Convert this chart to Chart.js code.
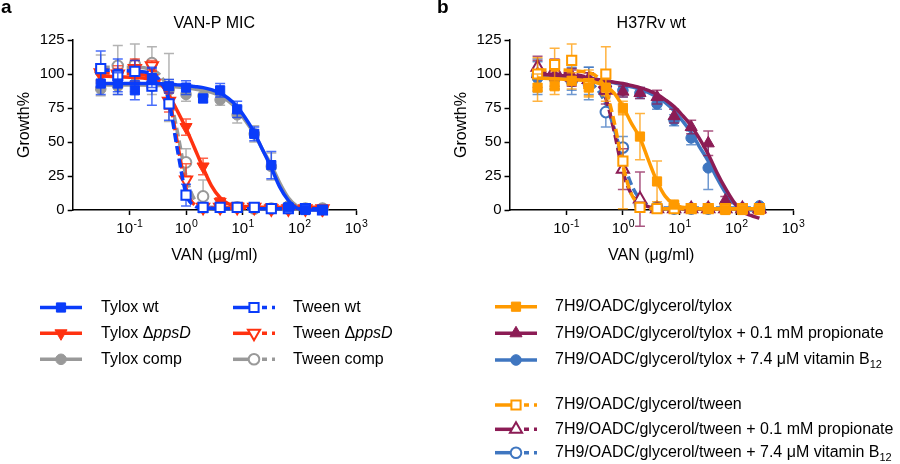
<!DOCTYPE html>
<html>
<head>
<meta charset="utf-8">
<script src="https://cdn.jsdelivr.net/npm/chart.js@4.4.1/dist/chart.umd.min.js"></script>
<style>
  body { margin: 0; background: #fff; width: 900px; height: 464px; position: relative; overflow: hidden;
         font-family: "Liberation Sans", Arial, sans-serif; }
  canvas { position: absolute; top: 0; }
  #ca { left: 0; }
  #cb { left: 450px; }
  .lab { position: absolute; top: -4px; font-size: 19px; font-weight: bold; }
</style>
</head>
<body>
<canvas id="ca" width="450" height="464"></canvas>
<canvas id="cb" width="450" height="464"></canvas>
<div class="lab" style="left:1px">a</div>
<div class="lab" style="left:437px">b</div>
<script>
// VAN concentrations (µg/ml), 2-fold dilutions
const conc = [0.03125, 0.0625, 0.125, 0.25, 0.5, 1, 2, 4, 8, 16, 32, 64, 128, 256];
const fitConc = [0.03125, 0.0625, 0.125, 0.25, 0.35, 0.5, 0.7, 1, 1.4, 2, 2.8, 4, 5.6, 8, 11, 16, 22, 32, 45, 64, 90, 128, 180, 256];
const xTicks = [0.1, 1, 10, 100, 1000];

// panel a - VAN-P MIC
const tyloxWt      = [93, 93, 88, 97, 91, 90, 82, 88, 74, 56, 33, 2, 0, 0];
const tyloxWtErr   = [8, 8, 7, 7, 5, 5, 3, 5, 6, 5, 10, 1, 1, 1];
const tyloxPpsD    = [99, 99, 102, 97, 80, 61, 32, 6, 3, 2, 2, 1, 1, 0];
const tyloxPpsDErr = [6, 5, 8, 6, 6, 6, 6, 3, 1, 1, 1, 1, 1, 1];
const tyloxComp    = [89, 91, 93, 91, 88, 85, 84, 81, 70, 56, 32, 3, 1, 1];
const tyloxCompErr = [5, 6, 6, 6, 8, 5, 4, 4, 6, 6, 10, 1, 1, 1];
const tweenWt      = [104, 99, 102, 91, 78, 11, 2, 2, 2, 2, 1, 1, 1, 0];
const tweenWtErr   = [13, 12, 8, 14, 12, 8, 1, 1, 1, 1, 1, 1, 1, 1];
const tweenPpsD    = [101, 100, 104, 106, 80, 22, 2, 2, 2, 2, 1, 1, 1, 1];
const tweenPpsDErr = [6, 6, 7, 4, 8, 12, 2, 1, 1, 1, 1, 1, 1, 1];
const tweenComp    = [102, 106, 107, 108, 90, 35, 10, 2, 2, 1, 1, 1, 1, 1];
const tweenCompErr = [12, 15, 15, 12, 25, 10, 12, 2, 1, 1, 1, 1, 1, 1];

const tyloxWtFit   = [93, 93, 93, 93, 92.8, 92.5, 92, 91.5, 90.8, 90, 88.5, 86, 82, 76, 68, 57, 45, 31, 17, 7, 1.5, 0, 0, 0];
const tyloxPpsDFit = [98.5, 98, 97.5, 96, 93, 84, 73, 60, 46, 31, 18, 9, 4.5, 3, 2.5, 2, 2, 2, 2, 2, 2, 2, 2, 2];
const tyloxCompFit = [92, 92, 92, 91.8, 91.5, 91, 90.5, 90, 89, 88, 86.5, 84, 80, 74, 66, 56, 45, 33, 20, 9, 3, 0.5, 0, 0];
const tweenWtFit   = [103, 102.5, 102, 100, 95, 80, 45, 12, 3, 1.5, 1.2, 1, 1, 1, 1, 1, 1, 1, 1, 1, 1, 1, 1, 1];
const tweenPpsDFit = [101, 100.5, 100, 98, 95, 82, 50, 16, 4, 2, 1.5, 1.5, 1.5, 1.5, 1.5, 1.5, 1.5, 1.5, 1.5, 1.5, 1.5, 1.5, 1.5, 1.5];
const tweenCompFit = [105, 105, 105, 103, 99, 86, 58, 25, 8, 3, 2, 2, 1.5, 1.5, 1.5, 1.5, 1.5, 1.5, 1.5, 1.5, 1.5, 1.5, 1.5, 1.5];

// panel b - H37Rv wt
const tylox        = [90, 91, 95, 90, 90, 75, 54, 21, 4, 1, 1, 0, 0, 0];
const tyloxErr     = [10, 6, 6, 6, 6, 5, 17, 15, 2, 1, 1, 1, 1, 1];
const tyloxProp    = [100, 99, 97, 96, 93, 87, 86, 83, 69, 61, 49, 7, 1, 0];
const tyloxPropErr = [10, 8, 6, 5, 8, 4, 4, 5, 5, 5, 9, 3, 1, 1];
const tyloxB12     = [97, 97, 96, 95, 91, 88, 86, 78, 66, 53, 31, 4, 1, 3];
const tyloxB12Err  = [12, 8, 8, 10, 5, 5, 4, 4, 4, 5, 16, 2, 1, 1];
const tween        = [100, 107, 110, 93, 100, 36, 2, 1, 1, 1, 1, 1, 1, 1];
const tweenErr     = [12, 12, 12, 10, 20, 35, 3, 1, 1, 1, 1, 1, 1, 1];
const tweenProp    = [105, 103, 98, 96, 88, 30, 8, 1, 1, 1, 1, 1, 1, 1];
const tweenPropErr = [8, 8, 6, 5, 10, 15, 20, 2, 1, 1, 1, 1, 1, 1];
const tweenB12     = [99, 97, 95, 93, 72, 46, 4, 2, 1, 1, 1, 1, 1, 1];
const tweenB12Err  = [12, 8, 10, 12, 11, 8, 2, 1, 1, 1, 1, 1, 1, 1];

const tyloxFit     = [97, 96.5, 96, 95, 93.5, 91, 86, 76, 64, 53, 37, 21, 10, 4, 2, 1.5, 1, 1, 1, 1, 1, 1, 1, 1];
const tyloxPropFit = [100, 99, 98.5, 97, 96, 95, 94, 93, 91.5, 90, 88, 85, 81, 76, 70, 62, 53, 41, 28, 16, 6, -1, -4, -6];
const tyloxB12Fit  = [99, 98.5, 98, 97, 96, 95, 93.5, 92, 90.5, 89, 86.5, 83, 79, 73, 66, 57, 47, 36, 24, 13, 5, 1, 0, 0];
const tweenFit     = [103, 103, 102.5, 101, 98, 88, 65, 33, 12, 4, 1.5, 1, 1, 1, 1, 1, 1, 1, 1, 1, 1, 1, 1, 1];
const tweenPropFit = [101, 100.5, 100, 97, 93, 82, 58, 28, 12, 5, 2.5, 1.5, 1, 1, 1, 1, 1, 1, 1, 1, 1, 1, 1, 1];
const tweenB12Fit  = [99, 98.5, 97, 94, 89, 78, 60, 37, 19, 8, 3.5, 2, 1.5, 1.5, 1.5, 1.5, 1.5, 1.5, 1.5, 1.5, 1.5, 1.5, 1.5, 1.5];

const FONT = '"Liberation Sans", Arial, sans-serif';
Chart.defaults.font.family = FONT;
Chart.defaults.color = '#000';

const BLUE = '#0a3cfa', RED = '#ff3210', GREY = '#999999';
const ORANGE = '#ff9a00', MAROON = '#8c1c55', STEEL = '#3f76c0';

const shapes = {
  square: { pointStyle: 'rect', radius: 6.5, rotation: 0 },
  triDown: { pointStyle: 'triangle', radius: 7, rotation: 180 },
  triUp: { pointStyle: 'triangle', radius: 7, rotation: 0 },
  circle: { pointStyle: 'circle', radius: 5.3, rotation: 0 }
};

function alpha(hex, a) {
  const n = parseInt(hex.slice(1), 16);
  return 'rgba(' + (n >> 16) + ',' + ((n >> 8) & 255) + ',' + (n & 255) + ',' + a + ')';
}

// one series = markers with error bars + fitted curve
function series(vals, err, fit, color, shape, open, dashed) {
  const s = shapes[shape];
  return [{
    data: conc.map((c, i) => ({ x: c, y: vals[i] })),
    err: err,
    errColor: alpha(color, 0.75),
    showLine: false,
    pointStyle: s.pointStyle,
    pointRadius: s.radius,
    pointRotation: s.rotation,
    pointBackgroundColor: open ? '#fff' : color,
    pointBorderColor: color,
    pointBorderWidth: open ? 2 : 1,
    clip: false
  }, {
    data: fitConc.map((c, i) => ({ x: c, y: fit[i] })),
    showLine: true,
    pointRadius: 0,
    borderColor: color,
    borderWidth: 3.5,
    borderDash: dashed ? [9, 4] : [],
    cubicInterpolationMode: 'monotone',
    clip: false
  }];
}

const errorBars = {
  id: 'errorBars',
  beforeDatasetDraw(chart, args) {
    const ds = chart.data.datasets[args.index];
    if (!ds.err) return;
    const { ctx, scales: { x, y } } = chart;
    ctx.save();
    ctx.strokeStyle = ds.errColor;
    ctx.lineWidth = 1.5;
    ds.data.forEach((p, i) => {
      const px = x.getPixelForValue(p.x);
      const top = y.getPixelForValue(p.y + ds.err[i]);
      const bot = y.getPixelForValue(p.y - ds.err[i]);
      ctx.beginPath();
      ctx.moveTo(px, top); ctx.lineTo(px, bot);
      ctx.moveTo(px - 5, top); ctx.lineTo(px + 5, top);
      ctx.moveTo(px - 5, bot); ctx.lineTo(px + 5, bot);
      ctx.stroke();
    });
    ctx.restore();
  }
};

// 10^n tick labels with a raised exponent
const powLabels = {
  id: 'powLabels',
  afterDraw(chart) {
    const { ctx, scales: { x } } = chart;
    ctx.save();
    ctx.fillStyle = '#000';
    ctx.textBaseline = 'alphabetic';
    ctx.textAlign = 'left';
    xTicks.forEach(v => {
      const e = String(Math.round(Math.log10(v)));
      ctx.font = '15px ' + FONT;
      const wb = ctx.measureText('10').width;
      ctx.font = '10.5px ' + FONT;
      const we = ctx.measureText(e).width;
      const px = x.getPixelForValue(v) - (wb + we) / 2;
      ctx.font = '15px ' + FONT;
      ctx.fillText('10', px, x.top + 23);
      ctx.font = '10.5px ' + FONT;
      ctx.fillText(e, px + wb + 0.5, x.top + 16.5);
    });
    ctx.restore();
  }
};

// legend: line + marker symbol, rich text
const legendBox = {
  id: 'legendBox',
  afterDraw(chart, args, opts) {
    const ctx = chart.ctx;
    ctx.save();
    opts.items.forEach(it => {
      const s = shapes[it.shape];
      const mid = it.x + 21;
      ctx.strokeStyle = it.color;
      ctx.lineWidth = 3.5;
      ctx.beginPath();
      if (it.dashed) {
        ctx.moveTo(it.x, it.y); ctx.lineTo(mid, it.y); ctx.stroke();
        ctx.setLineDash([5, 5]);
        ctx.beginPath(); ctx.moveTo(mid + 8, it.y); ctx.lineTo(it.x + 42, it.y); ctx.stroke();
        ctx.setLineDash([]);
      } else {
        ctx.moveTo(it.x, it.y); ctx.lineTo(it.x + 42, it.y); ctx.stroke();
      }
      ctx.fillStyle = it.dashed ? '#fff' : it.color;
      ctx.lineWidth = it.dashed ? 2 : 1;
      Chart.helpers.drawPoint(ctx, { pointStyle: s.pointStyle, radius: s.radius, rotation: s.rotation, borderWidth: ctx.lineWidth }, mid, it.y);
      let tx = it.tx;
      ctx.fillStyle = '#000';
      ctx.textBaseline = 'middle';
      it.text.forEach(r => {
        ctx.font = (r.i ? 'italic ' : '') + (r.sub ? '11px ' : '16px ') + FONT;
        ctx.fillText(r.t, tx, it.y + (r.sub ? 5 : 0));
        tx += ctx.measureText(r.t).width;
      });
    });
    ctx.restore();
  }
};

function makeChart(id, title, datasets, pad, legendItems) {
  return new Chart(document.getElementById(id), {
    type: 'scatter',
    data: { datasets: datasets },
    plugins: [errorBars, powLabels, legendBox],
    options: {
      responsive: false,
      animation: false,
      events: [],
      layout: { padding: pad },
      plugins: {
        legend: { display: false },
        tooltip: { enabled: false },
        title: {
          display: true, text: title, fullSize: false, color: '#000',
          font: { size: 16, weight: 'normal' },
          padding: { top: 14.4, bottom: 6.4 }
        },
        legendBox: { items: legendItems }
      },
      scales: {
        x: {
          type: 'logarithmic', min: 0.01, max: 1000,
          afterBuildTicks: s => { s.ticks = xTicks.map(v => ({ value: v })); },
          afterFit: s => { s.height = 60; },
          ticks: { display: false },
          grid: { drawOnChartArea: false, drawTicks: true, tickLength: 5, tickColor: '#000', tickWidth: 1.5 },
          border: { color: '#000', width: 1.5 },
          title: { display: true, text: 'VAN (\u03bcg/ml)', font: { size: 16 }, color: '#000', padding: { top: 0, bottom: 4.4 } }
        },
        y: {
          min: 0, max: 125,
          afterFit: s => { s.width = 57.4; },
          ticks: { stepSize: 25, font: { size: 15 }, color: '#000', padding: 3 },
          grid: { drawOnChartArea: false, drawTicks: true, tickLength: 5, tickColor: '#000', tickWidth: 1.5 },
          border: { color: '#000', width: 1.5 },
          title: { display: true, text: 'Growth%', font: { size: 16 }, color: '#000', padding: { top: 0, bottom: 0 } }
        }
      }
    }
  });
}

const dsA = [].concat(
  series(tyloxWt, tyloxWtErr, tyloxWtFit, BLUE, 'square', false, false),
  series(tweenWt, tweenWtErr, tweenWtFit, BLUE, 'square', true, true),
  series(tyloxPpsD, tyloxPpsDErr, tyloxPpsDFit, RED, 'triDown', false, false),
  series(tweenPpsD, tweenPpsDErr, tweenPpsDFit, RED, 'triDown', true, true),
  series(tyloxComp, tyloxCompErr, tyloxCompFit, GREY, 'circle', false, false),
  series(tweenComp, tweenCompErr, tweenCompFit, GREY, 'circle', true, true)
);

const dsB = [].concat(
  series(tylox, tyloxErr, tyloxFit, ORANGE, 'square', false, false),
  series(tween, tweenErr, tweenFit, ORANGE, 'square', true, true),
  series(tyloxProp, tyloxPropErr, tyloxPropFit, MAROON, 'triUp', false, false),
  series(tweenProp, tweenPropErr, tweenPropFit, MAROON, 'triUp', true, true),
  series(tyloxB12, tyloxB12Err, tyloxB12Fit, STEEL, 'circle', false, false),
  series(tweenB12, tweenB12Err, tweenB12Fit, STEEL, 'circle', true, true)
);

const legendA = [
  { x: 40, tx: 101, y: 307.5, color: BLUE, shape: 'square', text: [{ t: 'Tylox wt' }] },
  { x: 40, tx: 101, y: 333.3, color: RED, shape: 'triDown', text: [{ t: 'Tylox \u0394' }, { t: 'ppsD', i: true }] },
  { x: 40, tx: 101, y: 359.3, color: GREY, shape: 'circle', text: [{ t: 'Tylox comp' }] },
  { x: 233, tx: 293, y: 307.5, color: BLUE, shape: 'square', dashed: true, text: [{ t: 'Tween wt' }] },
  { x: 233, tx: 293, y: 333.3, color: RED, shape: 'triDown', dashed: true, text: [{ t: 'Tween \u0394' }, { t: 'ppsD', i: true }] },
  { x: 233, tx: 293, y: 359.3, color: GREY, shape: 'circle', dashed: true, text: [{ t: 'Tween comp' }] }
];

const legendB = [
  { x: 45, tx: 105, y: 306.7, color: ORANGE, shape: 'square', text: [{ t: '7H9/OADC/glycerol/tylox' }] },
  { x: 45, tx: 105, y: 333.3, color: MAROON, shape: 'triUp', text: [{ t: '7H9/OADC/glycerol/tylox + 0.1 mM propionate' }] },
  { x: 45, tx: 105, y: 360, color: STEEL, shape: 'circle', text: [{ t: '7H9/OADC/glycerol/tylox + 7.4 \u03bcM vitamin B' }, { t: '12', sub: true }] },
  { x: 45, tx: 105, y: 405, color: ORANGE, shape: 'square', dashed: true, text: [{ t: '7H9/OADC/glycerol/tween' }] },
  { x: 45, tx: 105, y: 429.3, color: MAROON, shape: 'triUp', dashed: true, text: [{ t: '7H9/OADC/glycerol/tween + 0.1 mM propionate' }] },
  { x: 45, tx: 105, y: 452.7, color: STEEL, shape: 'circle', dashed: true, text: [{ t: '7H9/OADC/glycerol/tween + 7.4 \u03bcM vitamin B' }, { t: '12', sub: true }] }
];

makeChart('ca', 'VAN-P MIC', dsA, { left: 15.3, right: 94, top: 0, bottom: 194 }, legendA);
makeChart('cb', 'H37Rv wt', dsB, { left: 2.1, right: 107, top: 0, bottom: 194 }, legendB);
</script>
</body>
</html>
